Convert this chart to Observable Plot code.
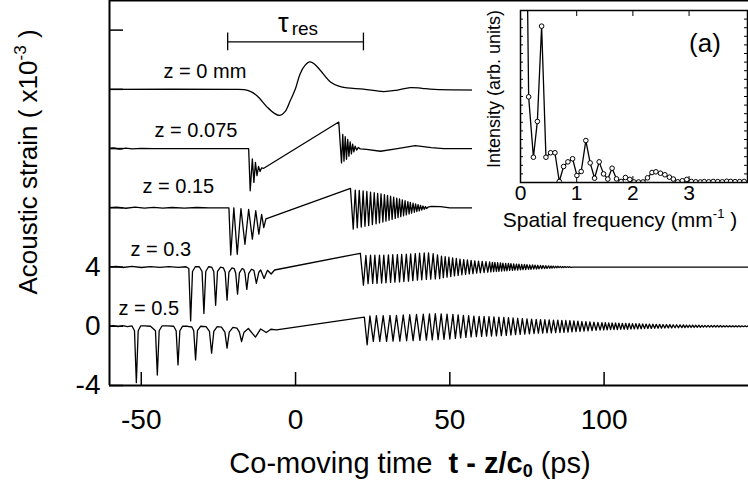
<!DOCTYPE html>
<html><head><meta charset="utf-8">
<script src="https://cdn.jsdelivr.net/npm/d3@7"></script>
<script src="https://cdn.jsdelivr.net/npm/@observablehq/plot@0.6"></script>
<style>
body{margin:0;background:#fff;}
#wrap{position:relative;width:748px;height:484px;overflow:hidden;}
#wrap svg{display:block;}
#inset{position:absolute;left:472px;top:2px;}
</style></head><body><div id="wrap"><div id="main"></div><div id="inset"></div></div>
<script>
const FONT = '"Liberation Sans", Arial, Helvetica, sans-serif';

// ---- data ----
const labels = ["z = 0 mm", "z = 0.075", "z = 0.15", "z = 0.3", "z = 0.5"];
const offsets = [16, 12, 8, 4, 0];
const labelT = [-42.8, -45.7, -49.6, -53.5, -57.4];
const labelV = [17.2, 13.2, 9.4, 5.2, 1.2];
const xDomain = [-60.3, 146.8];
const yDomain = [-4, 22];
const xTicks = [-50, 0, 50, 100];
const yTicks = [-4, 0, 4, 8, 12, 16, 20];
const yTickLabels = [-4, 0, 4];
const tauRes = [-22, 22];
const tauY = 19.2;

const trace0 = [[-61,0],[-20,0],[-16.7,-0.02],[-14.5,-0.15],[-12.4,-0.45],[-9.2,-1.2],[-7,-1.6],[-5.1,-1.76],[-3.4,-1.5],[-1.7,-0.75],[-0.1,0],[1.5,1.06],[3,1.6],[4.6,1.85],[6.2,1.7],[8,1.29],[11.3,0.5],[14,0.22],[16.7,0.1],[22,0.02],[28.5,-0.15],[33,-0.05],[37.2,0.12],[41,0.07],[45,0],[148,0]];

const trace075 = [[-61,0],[-59,0.04],[-57,-0.03],[-55,0.03],[-53,-0.02],[-50,0.02],[-46,0],[-15.2,0],[-14.7,-2.85],[-14.0,-0.7],[-13.5,-2.28],[-13.0,-0.93],[-12.5,-1.83],[-12.0,-1.2],[-11.5,-1.55],[-11.0,-1.3],[-10.3,-1.33],[14.0,1.79],[14.9,-0.97],[15.3,0.95],[15.7,-0.85],[16.1,0.8],[16.5,-0.72],[16.9,0.62],[17.3,-0.52],[17.7,0.45],[18.1,-0.36],[18.5,0.3],[18.9,-0.22],[19.3,0.17],[19.8,-0.1],[20.3,0.07],[21,-0.02],[23,-0.05],[27.5,-0.18],[33,0],[38.8,0.2],[44,0.06],[48,0],[148,0]];

const trace15 = [[-61,0],[-58,0.04],[-55,-0.03],[-52,0.04],[-49,-0.02],[-46,0.03],[-43,-0.02],[-40,0.02],[-36,-0.02],[-32,0.02],[-28,0],[-21.6,0],[-21.0,-3.19],[-20.0,0],[-18.9,-3.14],[-17.7,-0.05],[-16.4,-2.46],[-15.2,-0.1],[-14.0,-2.12],[-12.9,-0.2],[-11.9,-1.78],[-11.0,-0.45],[-10.3,-1.34],[-9.6,-0.75],[17.8,1.31],
[18.7,-1.44],[19.35,1.2],[20.0,-1.35],[20.65,1.18],[21.3,-1.3],[21.9,1.14],[22.5,-1.25],[23.1,1.1],[23.7,-1.2],[24.3,1.06],[24.9,-1.14],[25.5,1.02],[26.1,-1.08],[26.6,0.98],[27.2,-1.02],[27.7,0.94],[28.3,-0.96],[28.8,0.89],[29.3,-0.9],[29.8,0.84],[30.3,-0.84],[30.8,0.78],[31.3,-0.78],[31.8,0.72],[32.3,-0.72],[32.8,0.66],[33.2,-0.66],[33.7,0.6],[34.1,-0.6],[34.6,0.54],[35.0,-0.54],[35.5,0.48],[35.9,-0.48],[36.4,0.42],[36.8,-0.42],[37.2,0.37],[37.6,-0.36],[38.1,0.31],[38.5,-0.3],[38.9,0.26],[39.3,-0.25],[39.7,0.21],[40.1,-0.2],[40.5,0.16],[40.9,-0.15],[41.3,0.12],[41.7,-0.1],[42.1,0.08],[42.5,-0.05],[42.9,0.04],[44,0.1],[47,0.08],[50,0],[148,0]];

const trace3 = [[-61,0],[-58,0.04],[-56,-0.03],[-53,0.04],[-50,-0.03],[-47,0.03],[-44,-0.02],[-41,0.03],[-38,-0.02],[-35.5,0.02],
[-34.6,-0.1],[-34.0,-3.64],[-33.4,-0.3],[-32.5,0.02],[-31.2,0.02],
[-30.3,-0.3],[-29.7,-3.14],[-29.1,-0.3],[-28.2,0.02],[-27.2,0],
[-26.5,-0.3],[-25.9,-2.58],[-25.3,-0.3],[-24.3,0],[-23.4,-0.05],
[-22.8,-0.35],[-22.2,-2.24],[-21.6,-0.35],[-20.6,-0.05],[-19.9,-0.1],
[-19.4,-0.4],[-18.8,-1.83],[-18.2,-0.4],[-17.3,-0.1],[-16.8,-0.15],
[-16.4,-0.4],[-15.8,-1.51],[-15.2,-0.45],[-14.3,-0.15],[-13.5,-0.22],
[-12.7,-1.11],[-11.9,-0.35],[-11.3,-0.2],[-10.2,-0.77],[-9.1,-0.22],[-7.9,-0.47],[-6.8,-0.2],
[21.0,0.93],[22.0,-1.22],
[22.8,0.78],[23.5,-1.12],[24.3,0.8],[25.0,-1.1],[25.7,0.8],[26.4,-1.1],[27.2,0.8],[27.9,-1.08],[28.6,0.81],[29.3,-1.06],[30.1,0.82],[30.8,-1.04],[31.5,0.83],[32.2,-1.02],[33.0,0.84],[33.7,-1.0],[34.4,0.85],[35.1,-0.98],[35.9,0.87],[36.6,-0.95],[37.3,0.89],[38.0,-0.92],[38.8,0.91],[39.5,-0.89],[40.2,0.93],[40.9,-0.86],[41.7,0.95],[42.4,-0.83],[43.1,0.96],[43.8,-0.82],[44.6,0.9],[45.3,-0.8],[46.0,0.82],[46.7,-0.78],[47.3,0.74],[47.9,-0.72],[48.5,0.7],[49.1,-0.68],[49.7,0.66],[50.3,-0.64],[50.9,0.62],[51.5,-0.6],[52.1,0.58],[52.7,-0.56],[53.3,0.54],[53.9,-0.52],[54.5,0.5],[55.1,-0.49],[55.7,0.48],[56.3,-0.46],[56.9,0.45],[57.5,-0.44],[58.1,0.42],[58.7,-0.41],[59.3,0.4],[59.9,-0.39],[60.5,0.38],[61.1,-0.37],[61.7,0.36],[62.3,-0.35],[62.9,0.34],[63.3,-0.33],[63.8,0.32],[64.2,-0.31],[64.6,0.31],[65.1,-0.3],[65.5,0.29],[65.9,-0.29],[66.4,0.28],[66.8,-0.27],[67.2,0.27],[67.7,-0.26],[68.1,0.25],[68.5,-0.25],[69.0,0.24],[69.4,-0.23],[69.8,0.23],[70.3,-0.22],[70.7,0.21],[71.1,-0.21],[71.6,0.2],[72.0,-0.2],[72.4,0.19],[72.9,-0.19],[73.3,0.18],[73.7,-0.18],[74.2,0.17],[74.6,-0.17],[75.0,0.16],[75.5,-0.16],[75.9,0.15],[76.3,-0.15],[76.8,0.14],[77.2,-0.14],[77.6,0.13],[78.1,-0.13],[78.5,0.12],[78.9,-0.12],[79.4,0.11],[79.8,-0.11],[80.2,0.1],[80.7,-0.1],[81.1,0.09],[81.5,-0.09],[82.0,0.08],[82.4,-0.08],[82.8,0.07],[83.1,-0.07],[83.5,0.06],[83.9,-0.06],[84.3,0.05],[84.7,-0.05],[85.0,0.05],[85.4,-0.04],[85.8,0.04],[86.2,-0.04],[86.6,0.03],[86.9,-0.03],[87.3,0.03],[87.7,-0.03],[88.1,0.02],[88.5,-0.02],[88.8,0.02],[89.2,-0.02],[90,0],[148,0]];

const trace5 = [[-61,0],[-59,0.04],[-57.5,-0.03],[-56,0.04],[-54.5,-0.03],[-53,0.02],
[-52.2,-0.3],[-51.6,-3.81],[-51.0,-0.3],[-50.2,0.02],[-48.8,0.03],[-47.0,0],
[-45.4,-0.3],[-44.8,-3.29],[-44.2,-0.3],[-43.3,0.02],[-41.5,0.02],[-39.5,0],
[-38.7,-0.3],[-38.1,-2.61],[-37.5,-0.3],[-36.6,0.01],[-35,0],[-33.6,-0.05],
[-33.0,-0.3],[-32.4,-2.27],[-31.8,-0.3],[-30.8,0],[-29,-0.03],
[-27.9,-0.35],[-27.2,-1.82],[-26.5,-0.35],[-25.4,-0.03],[-24,-0.06],
[-22.9,-0.4],[-22.2,-1.48],[-21.5,-0.4],[-20.3,-0.08],[-19,-0.12],
[-18.2,-0.4],[-17.5,-1.03],[-16.7,-0.4],[-15.3,-0.15],[-13.0,-0.73],[-11.3,-0.18],[-9.5,-0.42],[-8.0,-0.2],[-6.2,-0.24],
[22.3,0.62],[23.2,-1.25],
[24.1,0.70],[25.2,-1.02],[26.2,0.72],[27.3,-1.02],[28.4,0.72],[29.5,-1.02],[30.6,0.73],[31.6,-1.0],[32.7,0.74],[33.8,-1.0],[34.9,0.76],[36.0,-0.98],[37.0,0.78],[38.1,-0.97],[39.2,0.8],[40.3,-0.95],[41.4,0.82],[42.4,-0.94],[43.4,0.84],[44.3,-0.92],[45.3,0.85],[46.2,-0.9],[47.2,0.84],[48.1,-0.88],[49.1,0.82],[50.0,-0.86],[51.0,0.8],[51.8,-0.82],[52.7,0.77],[53.5,-0.78],[54.4,0.74],[55.2,-0.75],[56.1,0.71],[56.9,-0.72],[57.8,0.68],[58.6,-0.7],[59.5,0.67],[60.3,-0.68],[61.1,0.66],[61.9,-0.67],[62.7,0.65],[63.5,-0.66],[64.3,0.64],[65.1,-0.65],[65.9,0.62],[66.7,-0.63],[67.5,0.6],[68.3,-0.61],[69.0,0.58],[69.8,-0.59],[70.5,0.56],[71.3,-0.57],[72.0,0.54],[72.8,-0.55],[73.5,0.52],[74.3,-0.53],[75.0,0.5],[75.8,-0.51],[76.5,0.48],[77.3,-0.49],[78.0,0.46],[78.7,-0.47],[79.4,0.45],[80.1,-0.46],[80.8,0.44],[81.5,-0.45],[82.2,0.43],[82.9,-0.44],[83.6,0.42],[84.3,-0.43],[85.0,0.41],[85.7,-0.42],[86.3,0.4],[87.0,-0.41],[87.6,0.39],[88.3,-0.4],[88.9,0.38],[89.6,-0.38],[90.2,0.36],[90.9,-0.36],[91.5,0.34],[92.2,-0.34],[92.8,0.32],[93.5,-0.32],[94.1,0.31],[94.8,-0.31],[95.4,0.29],[96.1,-0.29],[96.7,0.28],[97.4,-0.28],[98.0,0.26],[98.7,-0.26],[99.3,0.25],[99.9,-0.25],[100.4,0.24],[101.0,-0.24],[101.5,0.23],[102.1,-0.23],[102.6,0.22],[103.2,-0.22],[103.7,0.22],[104.3,-0.22],[104.8,0.21],[105.4,-0.21],[105.9,0.2],[106.5,-0.2],[107.0,0.2],[107.6,-0.2],[108.1,0.19],[108.7,-0.19],[109.2,0.18],[109.8,-0.18],[110.3,0.18],[110.9,-0.18],[111.4,0.17],[112.0,-0.17],[112.5,0.16],[113.1,-0.16],[113.6,0.15],[114.2,-0.15],[114.7,0.15],[115.3,-0.15],[115.8,0.14],[116.4,-0.14],[116.9,0.13],[117.5,-0.13],[118.0,0.13],[118.6,-0.13],[119.1,0.12],[119.7,-0.12],[120.2,0.11],[120.8,-0.11],[121.3,0.11],[121.9,-0.11],[122.4,0.1],[123.0,-0.1],[123.5,0.1],[124.1,-0.1],[124.6,0.09],[125.2,-0.09],[125.7,0.09],[126.2,-0.09],[126.7,0.08],[127.2,-0.08],[127.7,0.08],[128.2,-0.08],[128.7,0.08],[129.2,-0.08],[129.7,0.07],[130.2,-0.07],[130.7,0.07],[131.2,-0.07],[131.7,0.06],[132.2,-0.06],[132.7,0.06],[133.2,-0.06],[133.7,0.06],[134.2,-0.06],[134.7,0.05],[135.2,-0.05],[135.7,0.05],[136.2,-0.05],[136.7,0.05],[137.2,-0.05],[137.7,0.05],[138.2,-0.05],[138.7,0.04],[139.2,-0.04],[139.7,0.04],[140.2,-0.04],[140.7,0.04],[141.2,-0.04],[141.7,0.04],[142.2,-0.04],[142.7,0.04],[143.2,-0.04],[143.7,0.04],[144.2,-0.04],[144.7,0.03],[145.2,-0.03],[145.7,0.03],[146.2,-0.03],[146.7,0.03],[147.2,-0.03]];

const traces = [trace0, trace075, trace15, trace3, trace5];

// inset spectrum
const freq = [0.067,0.145,0.23,0.30,0.376,0.453,0.536,0.613,0.69,0.767,0.844,0.927,1.004,1.08,1.163,1.24,1.318,1.40,1.478,1.554,1.63,1.709,1.79,1.868,1.945,2.02,2.10,2.18,2.26,2.34,2.41,2.49,2.57,2.65,2.72,2.80,2.88,2.96,3.04,3.12,3.20,3.27,3.35,3.43,3.51,3.59,3.67,3.74,3.82,3.90,3.98];
const intensity = [2.7,0.498,0.147,0.355,0.909,0.147,0.173,0.173,0.006,0.093,0.12,0.138,0.041,0.064,0.244,0.114,0.025,0.12,0.05,0.02,0.083,0.021,0.006,0.029,0.018,0.003,0.003,0.003,0.027,0.058,0.062,0.054,0.045,0.031,0.02,0.004,0.01,0.018,0.006,0.004,0.003,0.005,0.004,0.006,0.005,0.004,0.007,0.006,0.005,0.005,0.006];
const insetXDomain = [0, 4.04];
const insetXTicks = [0, 1, 2, 3];

// ---- main chart ----
const traceMarks = traces.map((tr, i) => Plot.line(tr, {
  x: d => d[0], y: d => d[1] + offsets[i],
  curve: i === 0 ? "catmull-rom" : "linear",
  stroke: "black", strokeWidth: 1.3, clip: true
}));

const main = Plot.plot({
  width: 748, height: 484,
  marginLeft: 109, marginRight: 0, marginTop: 0, marginBottom: 99,
  x: {domain: xDomain},
  y: {domain: yDomain},
  style: {fontFamily: FONT, background: "white", color: "black", overflow: "visible"},
  marks: [
    ...traceMarks,
    Plot.ruleX([xDomain[0]], {stroke: "black", strokeWidth: 2}),
    Plot.ruleY([yDomain[0]], {stroke: "black", strokeWidth: 2}),
    Plot.ruleY([yDomain[1]], {stroke: "black", strokeWidth: 2}),
    Plot.tickX(xTicks, {x: d => d, insetTop: 385 - 13, stroke: "black", strokeWidth: 1.5}),
    Plot.tickY(yTicks, {y: d => d, insetRight: 639 - 14, stroke: "black", strokeWidth: 1.5}),
    Plot.axisX({ticks: xTicks, tickSize: 0, tickPadding: 24, fontSize: 28, label: null, tickFormat: d => String(d)}),
    Plot.axisY({ticks: yTickLabels, tickSize: 0, tickPadding: 9, fontSize: 28, label: null, tickFormat: d => String(d)}),
    Plot.ruleY([tauY], {x1: tauRes[0], x2: tauRes[1], stroke: "black", strokeWidth: 1.3}),
    Plot.ruleX(tauRes, {y1: tauY - 0.6, y2: tauY + 0.6, stroke: "black", strokeWidth: 1.3}),
    Plot.text(labels, {x: (d, i) => labelT[i], y: (d, i) => labelV[i], text: d => d, textAnchor: "start", fontSize: 20, fill: "black"})
  ]
});
document.getElementById("main").appendChild(main);

const sx = main.scale("x");
const svg = d3.select(main);
// tau_res label
svg.append("text").attr("x", sx.apply((tauRes[0] + tauRes[1]) / 2) + 3).attr("y", 32)
  .attr("font-size", 27).attr("fill", "black")
  .call(t => { t.append("tspan").text("τ"); t.append("tspan").attr("font-size", 19).attr("dy", 3).attr("dx", 3).text("res"); });
// x title
svg.append("text").attr("x", 410).attr("y", 473).attr("text-anchor", "middle")
  .attr("font-size", 29).attr("fill", "black").style("white-space", "pre")
  .call(t => {
    t.append("tspan").text("Co-moving time  ");
    t.append("tspan").attr("font-weight", "bold").text("t - z/c");
    t.append("tspan").attr("font-weight", "bold").attr("font-size", 18).attr("dy", 4).text("0");
    t.append("tspan").attr("dy", -4).text(" (ps)");
  });
// y title
svg.append("text").attr("transform", "translate(37,162) rotate(-90)").attr("text-anchor", "middle")
  .attr("font-size", 26).attr("fill", "black").style("white-space", "pre")
  .call(t => {
    t.append("tspan").text("Acoustic strain ( x10");
    t.append("tspan").attr("font-size", 17).attr("dy", -11).text("-3");
    t.append("tspan").attr("dy", 11).text(" )");
  });

// ---- inset ----
const spectrum = freq.map((f, i) => ({f, v: intensity[i]}));
const inset = Plot.plot({
  width: 276, height: 238,
  marginLeft: 48, marginRight: 1, marginTop: 8, marginBottom: 58,
  x: {domain: insetXDomain},
  y: {domain: [0, 1], axis: null},
  style: {fontFamily: FONT, background: "white", color: "black", overflow: "visible"},
  marks: [
    Plot.tickX(insetXTicks.slice(1), {x: d => d, insetBottom: 172 - 6, stroke: "black"}),
    Plot.tickX(insetXTicks.slice(1), {x: d => d, insetTop: 172 - 6, stroke: "black"}),
    Plot.tickY(d3.ticks(0, 1, 20), {y: d => d, insetRight: 227 - 3, stroke: "black"}),
    Plot.tickY(d3.ticks(0, 1, 20), {y: d => d, insetLeft: 227 - 3, stroke: "black"}),
    Plot.line(spectrum, {x: "f", y: "v", stroke: "black", strokeWidth: 1.3, clip: true}),
    Plot.dot(spectrum, {x: "f", y: "v", r: 2.3, fill: "white", stroke: "black", strokeWidth: 1, clip: true}),
    Plot.frame({stroke: "black", strokeWidth: 1.5}),
    Plot.axisX({ticks: insetXTicks, tickSize: 0, tickPadding: 3, fontSize: 21, label: null, tickFormat: d => String(d)})
  ]
});
document.getElementById("inset").appendChild(inset);
const isv = d3.select(inset);
isv.append("text").attr("x", 233).attr("y", 50).attr("text-anchor", "middle").attr("font-size", 26).attr("fill", "black").text("(a)");
isv.append("text").attr("transform", "translate(28,87) rotate(-90)").attr("text-anchor", "middle")
  .attr("font-size", 18).attr("fill", "black").text("Intensity (arb. units)");
isv.append("text").attr("x", 148).attr("y", 225).attr("text-anchor", "middle")
  .attr("font-size", 21).attr("fill", "black").style("white-space", "pre")
  .call(t => {
    t.append("tspan").text("Spatial frequency (mm");
    t.append("tspan").attr("font-size", 13).attr("dy", -9).text("-1");
    t.append("tspan").attr("dy", 9).text(" )");
  });
</script></body></html>
